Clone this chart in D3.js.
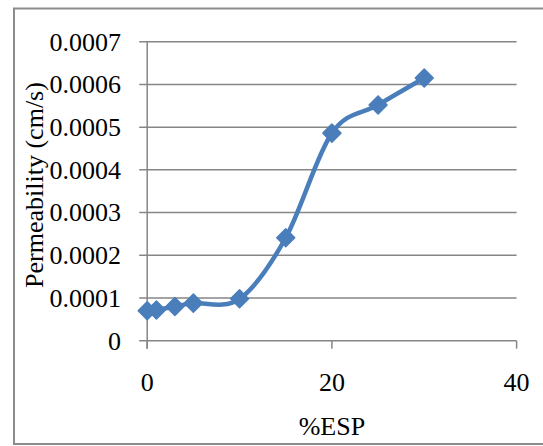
<!DOCTYPE html>
<html>
<head>
<meta charset="utf-8">
<script src="https://cdn.jsdelivr.net/npm/d3@7"></script>
<style>
  html, body { margin: 0; padding: 0; background: #fff; }
  svg { display: block; font-family: "Liberation Serif", "Times New Roman", serif; }
</style>
</head>
<body>
<svg id="chart" width="543" height="446"></svg>
<script>
// Permeability measured at each exchangeable sodium percentage
const esp = [0, 1, 3, 5, 10, 15, 20, 25, 30];
const permeability = [0.00007, 0.000072, 0.00008, 0.000088, 0.000098, 0.000241, 0.000486, 0.000552, 0.000615];
const xTicks = [0, 20, 40];
const yTicks = [0, 0.0001, 0.0002, 0.0003, 0.0004, 0.0005, 0.0006, 0.0007];
const xTitle = "%ESP";
const yTitle = "Permeability (cm/s)";

const svg = d3.select("#chart");
const plot = { left: 147.2, right: 516.6, top: 41.7, bottom: 340.7 };
const blue = "#4a7ebb";
const gridGray = "#868686";

// Outer frame
svg.append("rect")
  .attr("x", 14).attr("y", 8.5)
  .attr("width", 540).attr("height", 435.5)
  .attr("fill", "none").attr("stroke", "#8c8c8c").attr("stroke-width", 2);

const x = d3.scaleLinear().domain([0, 40]).range([plot.left, plot.right]);
const y = d3.scaleLinear().domain([0, 0.0007]).range([plot.bottom, plot.top]);

// Horizontal gridlines with short ticks left of the axis
svg.append("g").selectAll("line").data(yTicks).join("line")
  .attr("x1", plot.left - 8).attr("x2", plot.right)
  .attr("y1", d => y(d)).attr("y2", d => y(d))
  .attr("stroke", gridGray).attr("stroke-width", 1.5);

// Vertical axis line
svg.append("line")
  .attr("x1", x(0)).attr("x2", x(0))
  .attr("y1", plot.top).attr("y2", plot.bottom + 8)
  .attr("stroke", gridGray).attr("stroke-width", 1.5);

// X tick marks
svg.append("g").selectAll("line").data(xTicks).join("line")
  .attr("x1", d => x(d)).attr("x2", d => x(d))
  .attr("y1", plot.bottom).attr("y2", plot.bottom + 8)
  .attr("stroke", gridGray).attr("stroke-width", 1.5);

// Y tick labels
svg.append("g").selectAll("text").data(yTicks).join("text")
  .attr("x", 121).attr("y", d => y(d))
  .attr("dy", "0.34em")
  .attr("text-anchor", "end")
  .attr("font-size", 26)
  .text(d => d === 0 ? "0" : d.toFixed(4));

// X tick labels
svg.append("g").selectAll("text").data(xTicks).join("text")
  .attr("x", d => x(d)).attr("y", 391)
  .attr("text-anchor", "middle")
  .attr("font-size", 26)
  .text(d => d);

// Axis titles
svg.append("text")
  .attr("x", x(20)).attr("y", 435)
  .attr("text-anchor", "middle")
  .attr("font-size", 26)
  .text(xTitle);

svg.append("text")
  .attr("transform", "translate(43,185) rotate(-90)")
  .attr("text-anchor", "middle")
  .attr("font-size", 26)
  .text(yTitle);

// Smoothed series line
const pts = esp.map((e, i) => [e, permeability[i]]);
const line = d3.line()
  .x(d => x(d[0])).y(d => y(d[1]))
  .curve(d3.curveCardinal.tension(0));

svg.append("path")
  .attr("d", line(pts))
  .attr("fill", "none")
  .attr("stroke", blue)
  .attr("stroke-width", 4.5)
  .attr("stroke-linejoin", "round");

// Diamond markers
const h = 9;
svg.append("g").selectAll("path").data(pts).join("path")
  .attr("transform", d => `translate(${x(d[0])},${y(d[1])})`)
  .attr("d", `M0,${-h}L${h},0L0,${h}L${-h},0Z`)
  .attr("fill", blue)
  .attr("stroke", blue)
  .attr("stroke-width", 1.5)
  .attr("stroke-linejoin", "round");
</script>
</body>
</html>
